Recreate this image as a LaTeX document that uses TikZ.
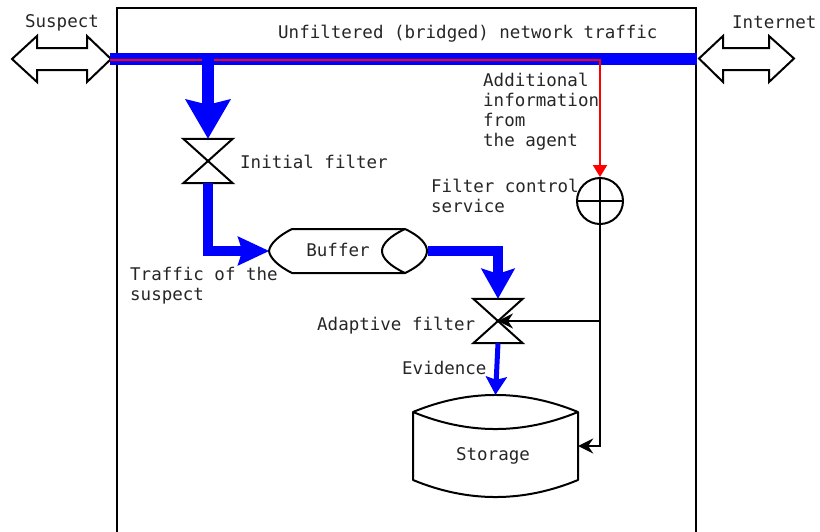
\documentclass[tikz,border=0pt]{standalone}
\usepackage{fontspec}
\newfontfamily\dmono{DejaVu Sans Mono}
\usetikzlibrary{arrows.meta}
\begin{document}
\begin{tikzpicture}[x=1pt,y=-1pt,
  txt/.style={font=\dmono\fontsize{17.5}{20}\selectfont, inner sep=0pt, text=black!85},
  outline/.style={draw=black, line width=2pt, line join=miter},
  valve/.style={inner sep=0pt, minimum width=49pt, minimum height=44pt},
  bflow/.style={draw=blue, line join=miter},
  ctrl/.style={draw=black, line width=2pt, -{Stealth[length=15pt,width=15pt,inset=5pt]}}
]
\useasboundingbox (0,0) rectangle (820,531);
% frame
\draw[line width=2pt] (117,535) -- (117,8) -- (696,8) -- (696,535);

% end points
\coordinate (sR) at (110,59);
\coordinate (iL) at (697,59);
\coordinate (rS) at (110,60);
\coordinate (rC) at (600,60);
\coordinate (tap) at (208,59);
\coordinate (br) at (600,321);

% nodes
\node[valve] (ini) at (208,161) {};
\node[valve] (ada) at (498,321) {};
\node[circle, draw, line width=2pt, minimum size=46pt, inner sep=0pt] (fcs) at (600,201) {};
\node[inner sep=0pt, minimum width=158pt, minimum height=44pt] (buf) at (348.5,251) {};
\node[inner sep=0pt, minimum width=165pt, minimum height=102pt] (sto) at (495.5,446) {};

% double arrows
\draw[outline, fill=white] (12,59) -- (37,36) -- (37,48) -- (87,48) -- (87,36) -- (111,59)
  -- (87,82) -- (87,70) -- (37,70) -- (37,82) -- cycle;
\draw[outline, fill=white] (699,58.5) -- (723,36) -- (723,48) -- (769,48) -- (769,36) -- (794,58.5)
  -- (769,82) -- (769,70) -- (723,70) -- (723,82) -- cycle;

% main traffic
\draw[bflow, line width=12.5pt] (sR) -- (iL);
\draw[red, line width=2pt, -{Triangle[length=12pt,width=14pt]}] (rS) -- (rC) -- (fcs.north);

% valves
\draw[outline, fill=white] (ini.north west) -- (ini.north east) -- (ini.south west) -- (ini.south east) -- cycle;
\draw[outline, fill=white] (ada.north west) -- (ada.north east) -- (ada.south west) -- (ada.south east) -- cycle;
\draw[line width=2pt] (fcs.north) -- (fcs.south) (fcs.west) -- (fcs.east);

% buffer shape
\draw[outline, line join=round]
  (292,229) -- (405,229) .. controls (420,236) and (427,244) .. (427,251)
  .. controls (427,258) and (420,266) .. (405,273) -- (292,273)
  .. controls (278,266) and (270,258) .. (269,251)
  .. controls (270,244) and (278,236) .. (292,229) -- cycle;
\draw[line width=2pt] (405,229) .. controls (390,236) and (382,244) .. (382,251)
  .. controls (382,258) and (390,266) .. (405,273);

% storage shape
\draw[outline, line join=round]
  (413,412) .. controls (468,389.3) and (523,389.3) .. (578,412)
  -- (578,480) .. controls (523,502.7) and (468,502.7) .. (413,480) -- cycle;
\draw[line width=2pt] (413,412) .. controls (468,434.7) and (523,434.7) .. (578,412);

% flows
\draw[bflow, line width=12pt, -{Stealth[length=39pt,width=44pt,inset=5pt]}] (tap) -- (ini.north);
\draw[bflow, line width=10pt, -{Stealth[length=31pt,width=28pt,inset=4pt]}] (ini.south) |- (buf.west);
\draw[bflow, line width=10pt, -{Stealth[length=30pt,width=33pt,inset=5pt]}] (buf.east) -| (ada.north);
\draw[bflow, line width=5pt, -{Stealth[length=18pt,width=21pt,inset=3pt]}] (ada.south) -- (sto.north);

% control
\draw[ctrl] (fcs.south) |- (sto.east);
\draw[ctrl] (br) -- (ada.center);

% texts
\node[txt, anchor=base] (tSus) at (62,27) {Suspect};
\node[txt, anchor=base west] (tUnf) at (278,38) {Unfiltered (bridged) network traffic};
\node[txt, anchor=base west] (tInt) at (732,28) {Internet};
\node[txt, anchor=base west, align=left] (tAdd) at (483,146) {Additional\\information\\from\\the agent};
\node[txt, anchor=base west] (tIni) at (240,168) {Initial filter};
\node[txt, anchor=base west, align=left] (tFcs) at (431,212) {Filter control\\service};
\node[txt, anchor=base west, align=left] (tTra) at (130,300.5) {Traffic of the\\suspect};
\node[txt, anchor=base] (tBuf) at (338,256.5) {Buffer};
\node[txt, anchor=base west] (tAda) at (317,330) {Adaptive filter};
\node[txt, anchor=base west] (tEvi) at (402,374) {Evidence};
\node[txt, anchor=base] (tSto) at (493,460) {Storage};
\end{tikzpicture}
\end{document}
